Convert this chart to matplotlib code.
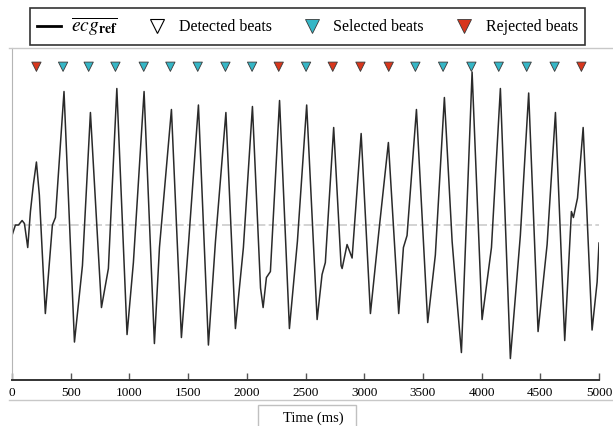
import matplotlib
matplotlib.use("Agg")
import matplotlib.pyplot as plt
from matplotlib.lines import Line2D
from matplotlib.patches import Rectangle

plt.rcParams['font.family'] = ['Liberation Serif', 'DejaVu Serif']
plt.rcParams['mathtext.fontset'] = 'stix'

# averaged reference ecg (time in ms, amplitude in arbitrary units)
time_ms = [0, 29, 55, 86, 106, 134, 157, 182, 208, 233, 284,
           344, 370, 443, 532, 600, 668,
           762, 821, 893, 980, 1034, 1125,
           1213, 1256, 1358, 1443, 1503, 1588,
           1673, 1733, 1822, 1903, 1971, 2048,
           2117, 2139, 2167, 2201, 2279, 2363, 2431, 2510,
           2599, 2641, 2669, 2740, 2803, 2812, 2854, 2897, 2974,
           3053, 3124, 3206, 3294, 3334, 3365, 3445,
           3541, 3606, 3683, 3749, 3777, 3828, 3919,
           4004, 4084, 4160, 4245, 4330, 4401,
           4481, 4558, 4629, 4708, 4765, 4782, 4817, 4865,
           4941, 4984, 5000]
ecg_ref = [-0.07, 0.0, 0.0, 0.03, 0.01, -0.15, 0.09, 0.27, 0.42, 0.20, -0.59,
           0.0, 0.05, 0.89, -0.78, -0.27, 0.75,
           -0.55, -0.29, 0.91, -0.73, -0.25, 0.89,
           -0.79, -0.15, 0.77, -0.75, -0.13, 0.80,
           -0.80, -0.11, 0.75, -0.69, -0.15, 0.79,
           -0.42, -0.55, -0.35, -0.31, 0.83, -0.69, -0.11, 0.80,
           -0.63, -0.33, -0.25, 0.65, -0.27, -0.29, -0.13, -0.22, 0.61,
           -0.59, -0.05, 0.55, -0.59, -0.15, -0.07, 0.77,
           -0.65, -0.20, 0.85, -0.11, -0.38, -0.85, 1.02,
           -0.63, -0.15, 0.91, -0.89, -0.07, 0.88,
           -0.71, -0.13, 0.75, -0.77, 0.09, 0.05, 0.18, 0.65,
           -0.70, -0.38, -0.12]

# detected beats and whether they were kept
beat_ms = [208, 435, 653, 881, 1122, 1349, 1582, 1818, 2045, 2272, 2505,
           2732, 2968, 3209, 3436, 3672, 3913, 4146, 4384, 4622, 4850]
beat_status = ['rejected', 'selected', 'selected', 'selected', 'selected',
               'selected', 'selected', 'selected', 'selected', 'rejected',
               'selected', 'rejected', 'rejected', 'rejected', 'selected',
               'selected', 'selected', 'selected', 'selected', 'selected',
               'rejected']
xticks = [0, 500, 1000, 1500, 2000, 2500, 3000, 3500, 4000, 4500, 5000]

SEL_COLOR = '#35b6c6'
REJ_COLOR = '#d8361c'
MARK_Y = 1.055

W, H = 613, 426
fig = plt.figure(figsize=(W / 100, H / 100), dpi=100)
ax = fig.add_axes([12 / W, 1 - 380 / H, 587 / W, 332 / H])

ax.axhline(0, color='#cccccc', lw=1.2, ls=(0, (5, 2)), zorder=0)
ax.plot(time_ms, ecg_ref, color='#2a2a2a', lw=1.1, solid_joinstyle='round')

cols = [SEL_COLOR if s == 'selected' else REJ_COLOR for s in beat_status]
ax.scatter(beat_ms, [MARK_Y] * len(beat_ms), marker='v', s=45, c=cols,
           edgecolors='#3a3a3a', linewidths=0.6, zorder=3)

ax.set_xlim(0, 5000)
ax.set_ylim(-1.033, 1.18)
ax.set_xticks(xticks)
ax.set_yticks([])
ax.tick_params(axis='x', direction='in', length=5, width=1, color='#555555',
               pad=5, labelsize=9.5)
ax.spines['top'].set_visible(False)
ax.spines['right'].set_visible(False)
ax.spines['left'].set_color('#b5b5b5')
ax.spines['bottom'].set_color('#333333')
ax.spines['bottom'].set_linewidth(1.4)

# light separator lines and x label box
fig.add_artist(Line2D([9 / W, 1], [1 - 48 / H] * 2, transform=fig.transFigure,
                      color='#c8c8c8', lw=1))
fig.add_artist(Line2D([9 / W, 1], [1 - 400 / H] * 2, transform=fig.transFigure,
                      color='#c8c8c8', lw=1))
fig.add_artist(Rectangle((258 / W, 1 - 432 / H), 98 / W, 27 / H,
                         transform=fig.transFigure, fill=False,
                         edgecolor='#c0c0c0', lw=1))
fig.text(313 / W, 1 - 418 / H, 'Time (ms)', ha='center', va='center', fontsize=10.5)

handles = [
    Line2D([], [], color='black', lw=2),
    Line2D([], [], ls='', marker='v', markersize=10, markerfacecolor='white',
           markeredgecolor='black', markeredgewidth=0.8),
    Line2D([], [], ls='', marker='v', markersize=10, markerfacecolor=SEL_COLOR,
           markeredgecolor='#3a3a3a', markeredgewidth=0.6),
    Line2D([], [], ls='', marker='v', markersize=10, markerfacecolor=REJ_COLOR,
           markeredgecolor='#3a3a3a', markeredgewidth=0.6),
]
labels = [r'$\overline{ecg_{\mathbf{ref}}}$', 'Detected beats', 'Selected beats',
          'Rejected beats']
leg = fig.legend(handles, labels, loc='center', bbox_to_anchor=(307.5 / W, 1 - 26.5 / H),
                 ncol=4, fontsize=11.5, fancybox=False, edgecolor='black',
                 handlelength=1.5, handletextpad=0.6, columnspacing=1.75,
                 borderpad=0.45)
leg.get_texts()[0].set_fontsize(14)
leg.get_frame().set_linewidth(1.2)

fig.savefig('out.png', dpi=100)
